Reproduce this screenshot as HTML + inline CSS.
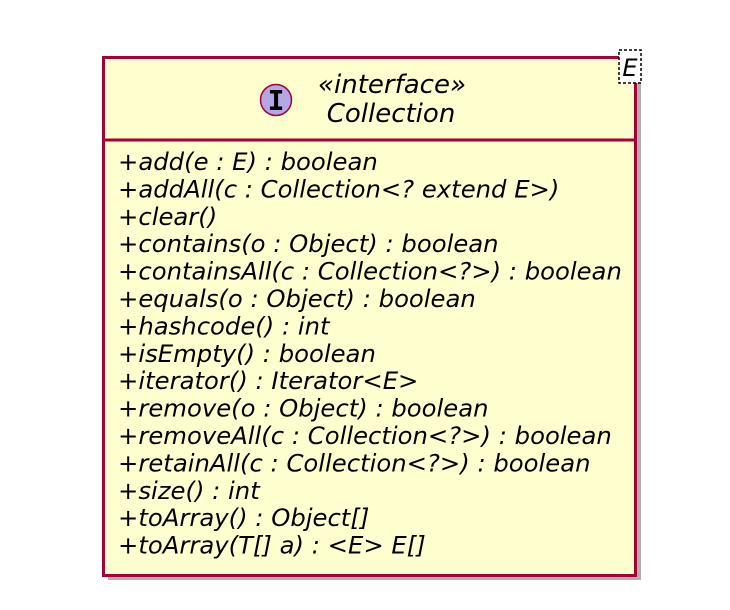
<!DOCTYPE html>
<html><head><meta charset="utf-8"><style>html,body{margin:0;padding:0;background:#fff}</style></head>
<body>
<svg width="730" height="605" xmlns="http://www.w3.org/2000/svg" font-family="'DejaVu Sans', 'Liberation Sans', sans-serif">
<rect x="108" y="62" width="533" height="518" fill="#b0b0b0"/>
<rect x="103.5" y="57.5" width="532" height="518" fill="#FEFECE" stroke="#A80036" stroke-width="3"/>
<line x1="103.5" y1="140" x2="635.5" y2="140" stroke="#A80036" stroke-width="3"/>
<rect x="619" y="50" width="22" height="33" fill="#fff" stroke="#000" stroke-width="1.5" stroke-dasharray="3,2"/>
<text x="630" y="76" font-size="24" font-style="italic" text-anchor="middle">E</text>
<circle cx="276" cy="100" r="15.5" fill="#B4A7E5" stroke="#A80036" stroke-width="1.5"/>
<text x="276" y="110" font-size="28" font-weight="bold" text-anchor="middle" font-family="'DejaVu Sans Mono','Liberation Mono',monospace">I</text>
<text x="392" y="93" font-size="26" font-style="italic" text-anchor="middle">«interface»</text>
<text x="391" y="122" font-size="26" font-style="italic" text-anchor="middle">Collection</text>
<g font-size="24.3" font-style="italic" fill="#000">
<text x="118" y="170">+add(e : E) : boolean</text>
<text x="118" y="197.4">+addAll(c : Collection&lt;? extend E&gt;)</text>
<text x="118" y="224.8">+clear()</text>
<text x="118" y="252.2">+contains(o : Object) : boolean</text>
<text x="118" y="279.6">+containsAll(c : Collection&lt;?&gt;) : boolean</text>
<text x="118" y="307">+equals(o : Object) : boolean</text>
<text x="118" y="334.4">+hashcode() : int</text>
<text x="118" y="361.8">+isEmpty() : boolean</text>
<text x="118" y="389.2">+iterator() : Iterator&lt;E&gt;</text>
<text x="118" y="416.6">+remove(o : Object) : boolean</text>
<text x="118" y="444">+removeAll(c : Collection&lt;?&gt;) : boolean</text>
<text x="118" y="471.4">+retainAll(c : Collection&lt;?&gt;) : boolean</text>
<text x="118" y="498.8">+size() : int</text>
<text x="118" y="526.2">+toArray() : Object[]</text>
<text x="118" y="553.6">+toArray(T[] a) : &lt;E&gt; E[]</text>
</g>
</svg>
</body></html>
